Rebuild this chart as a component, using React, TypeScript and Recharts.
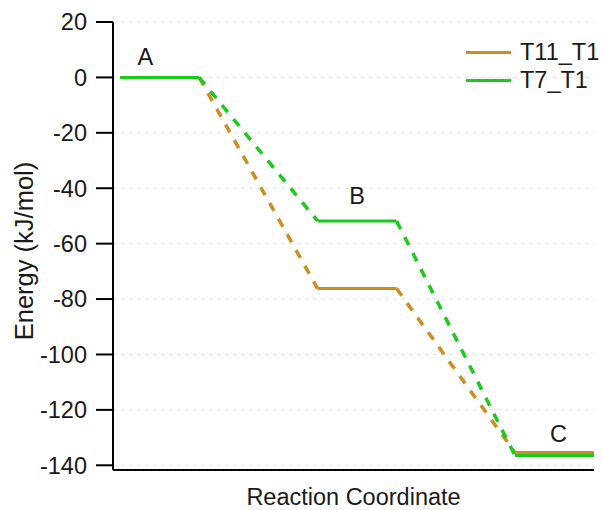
import React from 'react';
import {
  LineChart,
  Line,
  XAxis,
  YAxis,
  CartesianGrid,
  ReferenceDot,
  Label,
} from 'recharts';

// states along the reaction coordinate
const states = ['A', 'B', 'C'];
const stateStart = [0, 2.5, 5];
const stateEnd = [1, 3.5, 6];
const labelX = [0.32, 3.0, 5.55];

// energies (kJ/mol) for each state
const t11Energy = [0, -76.2, -135.4];
const t7Energy = [0, -51.8, -136.5];

const seriesNames = ['T11_T1', 'T7_T1'];
const seriesValues = [t11Energy, t7Energy];
const seriesColors = ['#CF8D1F', '#1BCB1B'];

const yTicks = [20, 0, -20, -40, -60, -80, -100, -120, -140];

const FONT = '"Liberation Sans", Arial, sans-serif';
const TEXT = '#1a1a1a';
const labelOffset = [12, 17, 11];

type Seg = { key: string; color: string; dashed: boolean; data: { x: number; y: number }[] };

// plateaus are solid, connectors between them are dashed
const segments: Seg[] = [];
seriesValues.forEach((vals, s) => {
  vals.forEach((v, i) => {
    segments.push({
      key: `${seriesNames[s]}-p${i}`,
      color: seriesColors[s],
      dashed: false,
      data: [
        { x: stateStart[i], y: v },
        { x: stateEnd[i], y: v },
      ],
    });
    if (i < vals.length - 1) {
      segments.push({
        key: `${seriesNames[s]}-c${i}`,
        color: seriesColors[s],
        dashed: true,
        data: [
          { x: stateEnd[i], y: v },
          { x: stateStart[i + 1], y: vals[i + 1] },
        ],
      });
    }
  });
});

const labelTop = states.map((_, i) => Math.max(...seriesValues.map((v) => v[i])));

export default function App() {
  return (
    <div style={{ position: 'relative', width: 602, height: 510, fontFamily: FONT }}>
      <style>{'body{margin:0}'}</style>
      <LineChart
        width={602}
        height={510}
        margin={{ top: 22, right: 8, bottom: 0, left: 0 }}
        style={{ fontFamily: FONT }}
      >
        <CartesianGrid vertical={false} stroke="#e3e3e3" strokeDasharray="4 4" />
        <XAxis
          type="number"
          dataKey="x"
          domain={[-0.09, 6]}
          allowDataOverflow
          tick={false}
          tickLine={false}
          axisLine={{ stroke: '#000', strokeWidth: 2 }}
          height={40}
        >
          <Label
            content={({ viewBox }: any) => (
              <text
                x={viewBox.x + viewBox.width / 2}
                y={497}
                textAnchor="middle"
                dominantBaseline="central"
                fontSize={23.5}
                fill={TEXT}
                fontFamily={FONT}
              >
                Reaction Coordinate
              </text>
            )}
          />
        </XAxis>
        <YAxis
          type="number"
          domain={[-141.7, 20]}
          ticks={yTicks}
          allowDataOverflow
          width={113}
          tickSize={17}
          tickMargin={9}
          axisLine={{ stroke: '#000', strokeWidth: 2 }}
          tickLine={{ stroke: '#000', strokeWidth: 2 }}
          tick={{ fontSize: 23.5, fill: TEXT, fontFamily: FONT }}
        >
          <Label
            content={({ viewBox }: any) => {
              const cy = viewBox.y + viewBox.height / 2 + 5;
              return (
                <text
                  x={24}
                  y={cy}
                  transform={`rotate(-90 24 ${cy})`}
                  textAnchor="middle"
                  dominantBaseline="central"
                  fontSize={25.5}
                  fill={TEXT}
                  fontFamily={FONT}
                >
                  Energy (kJ/mol)
                </text>
              );
            }}
          />
        </YAxis>
        {segments.map((seg) => (
          <Line
            key={seg.key}
            data={seg.data}
            dataKey="y"
            type="linear"
            stroke={seg.color}
            strokeWidth={seg.dashed ? 3.5 : 3}
            strokeDasharray={seg.dashed ? '9 9' : undefined}
            dot={false}
            activeDot={false}
            legendType="none"
            isAnimationActive={false}
          />
        ))}
        {states.map((s, i) => (
          <ReferenceDot
            key={s}
            x={labelX[i]}
            y={labelTop[i]}
            r={0}
            fill="none"
            stroke="none"
            label={{
              value: s,
              position: 'top',
              offset: labelOffset[i],
              fontSize: 23.5,
              fill: TEXT,
              fontFamily: FONT,
            }}
          />
        ))}
      </LineChart>
      <div style={{ position: 'absolute', left: 466, top: 39, fontSize: 23.5, color: TEXT }}>
        {seriesNames.map((name, i) => (
          <div key={name} style={{ display: 'flex', alignItems: 'center', height: 27.5 }}>
            <span
              style={{ display: 'inline-block', width: 45, height: 3, background: seriesColors[i], marginRight: 9 }}
            />
            <span style={{ lineHeight: '27.5px' }}>{name}</span>
          </div>
        ))}
      </div>
    </div>
  );
}
